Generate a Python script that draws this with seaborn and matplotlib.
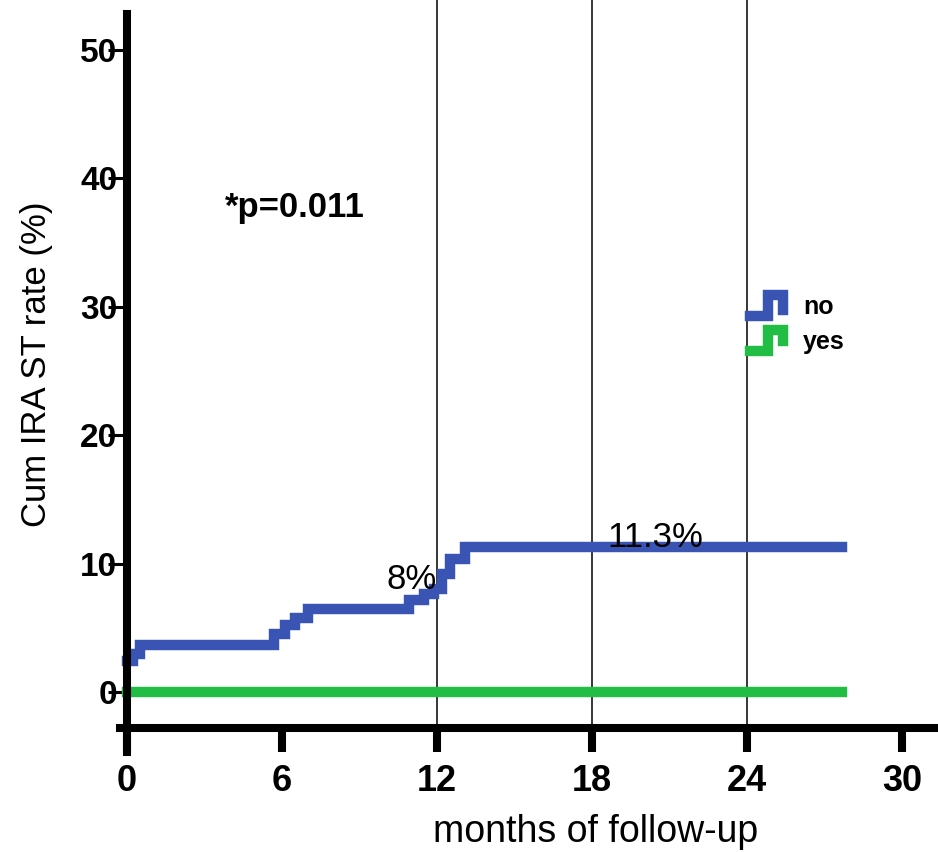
import numpy as np
import pandas as pd
import matplotlib
matplotlib.use("Agg")
import matplotlib.pyplot as plt
import seaborn as sns
from matplotlib.legend_handler import HandlerBase
from matplotlib.lines import Line2D

# Cumulative IRA stent-thrombosis rate (%) over follow-up, by group
months_no = [0, 0.25, 0.5, 5.7, 6.1, 6.5, 7.0, 10.9, 11.5, 11.9, 12.2, 12.5, 13.1, 27.7]
rate_no = [2.4, 3.0, 3.7, 4.5, 5.2, 5.8, 6.5, 7.2, 7.6, 8.0, 9.2, 10.4, 11.3, 11.3]
months_yes = [0, 27.7]
rate_yes = [0.0, 0.0]

groups = ["no", "yes"]
group_colors = {"no": "#3954b3", "yes": "#22bd45"}
xticks = [0, 6, 12, 18, 24, 30]
yticks = [0, 10, 20, 30, 40, 50]
landmarks = [12, 18, 24]
p_text = "*p=0.011"

df = pd.concat([
    pd.DataFrame({"month": months_no, "rate": rate_no, "group": "no"}),
    pd.DataFrame({"month": months_yes, "rate": rate_yes, "group": "yes"}),
], ignore_index=True)

sns.set_style("white")
plt.rcParams["font.family"] = ["Liberation Sans", "DejaVu Sans"]
plt.rcParams["text.color"] = "black"
plt.rcParams["axes.labelcolor"] = "black"

W, H = 938, 852
fig = plt.figure(figsize=(W / 100, H / 100), dpi=100)
ax = fig.add_axes([120 / W, 124 / H, 818 / W, 728 / H])

ax.vlines(landmarks, -2.8, 53.9, color="black", lw=1.1, zorder=1)

sns.lineplot(data=df, x="month", y="rate", hue="group", hue_order=groups,
             palette=group_colors, estimator=None, sort=False,
             drawstyle="steps-post", linewidth=7.5,
             solid_capstyle="projecting", solid_joinstyle="miter",
             legend=False, ax=ax, zorder=3)

ax.set_xlim(-0.27, 31.4)
ax.set_ylim(-2.8, 53.9)
ax.set_xticks(xticks)
ax.set_yticks(yticks)

for side in ("top", "right"):
    ax.spines[side].set_visible(False)
ax.spines["left"].set_position(("data", 0))
ax.spines["left"].set_bounds(-4.7, 52.8)
for side in ("left", "bottom"):
    ax.spines[side].set_linewidth(5.8)
    ax.spines[side].set_color("black")
    ax.spines[side].set_zorder(4)

ax.tick_params(axis="x", bottom=True, direction="out", length=17, width=5.8,
               pad=9, labelsize=26, colors="black")
ax.tick_params(axis="y", left=True, direction="out", length=14, width=2.2,
               pad=-7, labelsize=24, colors="black")
for lbl in ax.get_xticklabels() + ax.get_yticklabels():
    lbl.set_fontweight("bold")

ax.set_xlabel("months of follow-up", fontsize=27)
ax.xaxis.set_label_coords(0.581, -0.118)
ax.set_ylabel("Cum IRA ST rate (%)", fontsize=25)
ax.yaxis.set_label_coords(-0.082, 0.5)

ax.text(12, 8.0, "8%", ha="right", va="baseline", fontsize=25)
ax.text(18.6, 11.3, "11.3%", ha="left", va="baseline", fontsize=25)
ax.text(3.8, 37.7, p_text, ha="left", va="center", fontsize=25, fontweight="bold")


class StepHandler(HandlerBase):
    """Legend glyph shaped like a small survival-curve step."""

    def __init__(self, tip):
        super().__init__()
        self.tip = tip

    def create_artists(self, legend, orig_handle, xdescent, ydescent,
                       width, height, fontsize, trans):
        x0, y0 = -xdescent, -ydescent
        xs = [x0, x0 + 0.55 * width, x0 + 0.55 * width, x0 + width, x0 + width]
        ys = [y0, y0, y0 + height, y0 + height, y0 + self.tip * height]
        line = Line2D(xs, ys, color=orig_handle.get_color(), lw=7.5,
                      solid_capstyle="projecting", solid_joinstyle="miter",
                      transform=trans)
        return [line]


handles = [Line2D([], [], color=group_colors[g], label=g) for g in groups]
leg = ax.legend(handles=handles, labels=groups,
                handler_map={handles[0]: StepHandler(0.3), handles[1]: StepHandler(0.45)},
                loc="upper left", bbox_to_anchor=(750 / W, 1 - 295 / H),
                bbox_transform=fig.transFigure, frameon=False, borderpad=0,
                borderaxespad=0, handlelength=1.32, handleheight=0.92,
                handletextpad=0.8, labelspacing=0.42,
                prop={"size": 18, "weight": "bold"})

fig.savefig("out.png", dpi=100)
